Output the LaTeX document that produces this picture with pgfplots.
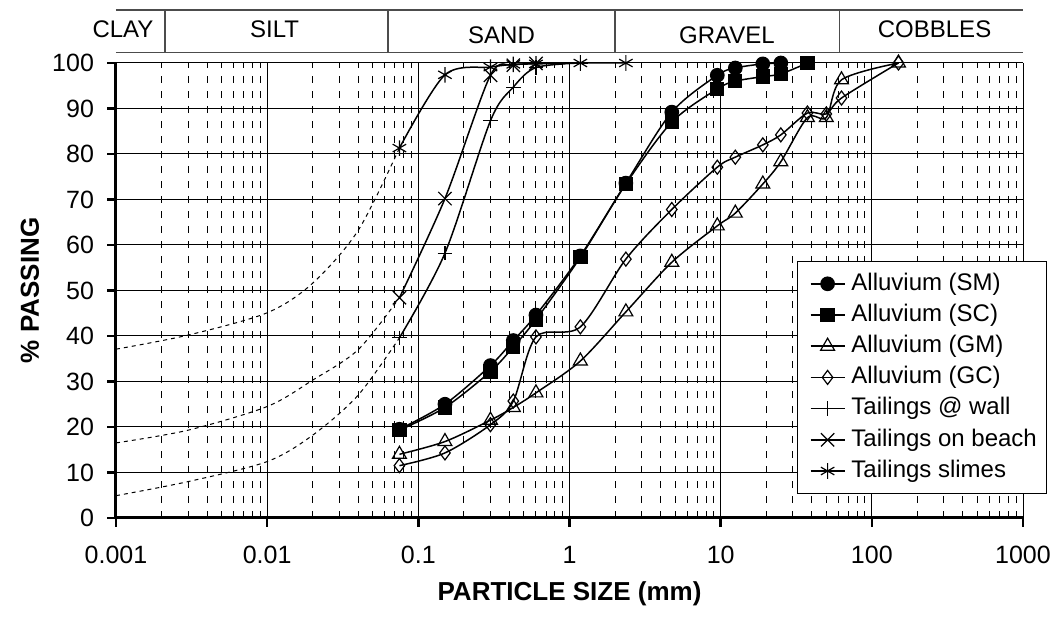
\documentclass[border=0pt]{standalone}
\usepackage{fontspec}
\setmainfont{Liberation Sans}
\usepackage{pgfplots}
\pgfplotsset{compat=1.18}

\pgfplotsset{
  gs/.style={black, line width=0.75pt, smooth, tension=0.5},
  ex/.style={black, line width=0.5pt, smooth, tension=0.5, dash pattern=on 2pt off 2pt, forget plot},
}

\begin{document}
\begin{tikzpicture}[font=\fontsize{12}{14}\selectfont]
\begin{axis}[
  name=ax,
  scale only axis, width=453.5pt, height=227.5pt,
  xmode=log, xmin=0.001, xmax=1000, ymin=0, ymax=100,
  xtick={0.001,0.01,0.1,1,10,100,1000},
  xticklabels={0.001,0.01,0.1,1,10,100,1000},
  minor xtick={0.002,0.003,0.004,0.005,0.006,0.007,0.008,0.009,
               0.02,0.03,0.04,0.05,0.06,0.07,0.08,0.09,
               0.2,0.3,0.4,0.5,0.6,0.7,0.8,0.9,
               2,3,4,5,6,7,8,9,20,30,40,50,60,70,80,90,
               200,300,400,500,600,700,800,900},
  ytick={0,10,...,100},
  axis x line*=bottom, axis y line*=left,
  axis line style={line width=1.5pt},
  tick align=outside, major tick length=4.5pt, minor tick length=0pt,
  tick style={line width=1.2pt, black},
  xmajorgrids, xminorgrids, ymajorgrids,
  major grid style={black, line width=0.5pt},
  minor grid style={black, line width=0.5pt, dash pattern=on 3.5pt off 4pt},
  /pgf/number format/assume math mode=true,
  ticklabel style={font=\fontsize{12.5}{15}\selectfont},
  xticklabel style={yshift=-6pt},
  yticklabel style={xshift=-3pt},
  xlabel={PARTICLE SIZE (mm)},
  ylabel={\% PASSING},
  xlabel style={at={(axis description cs:0.5,-0.166)}, anchor=center, font=\fontsize{13}{15}\selectfont\bfseries},
  ylabel style={at={(axis description cs:-0.0948,0.5)}, anchor=center, font=\fontsize{13}{15}\selectfont\bfseries},
  legend cell align=left,
  legend image code/.code={
    \path (-2.5pt,0pt) (0.6cm,0pt);
    \draw[mark repeat=2,mark phase=2] plot coordinates {(0cm,0cm) (0.3cm,0cm) (0.6cm,0cm)};},
  legend style={at={(1.027,0.5648)}, anchor=north east, draw=black, line width=0.6pt, fill=white,
    font=\fontsize{12}{14}\selectfont, row sep=0.4pt, column sep=1.5pt, inner sep=3.5pt,
    nodes={inner sep=1.5pt, text height=9.2pt, text depth=3pt}},
]
% extrapolated (dashed) parts of the tailings curves
\addplot[ex] coordinates {(0.001,37.1) (0.003,40.2) (0.01,45.1) (0.02,51.6) (0.04,63.2) (0.075,81.3)};
\addplot[ex] coordinates {(0.001,16.5) (0.003,19.3) (0.01,24.5) (0.02,30.3) (0.04,37.0) (0.075,48.4)};
\addplot[ex] coordinates {(0.001,4.9) (0.003,8.0) (0.01,12.4) (0.02,18.2) (0.04,27.0) (0.075,39.6)};

\addplot[gs, mark=*, mark size=3.3pt, mark options={solid}] coordinates {
  (0.075,19.5) (0.15,25.0) (0.3,33.5) (0.425,39.0) (0.6,44.6) (1.18,57.6)
  (2.36,73.6) (4.75,89.2) (9.5,97.3) (12.5,98.9) (19,99.8) (25,100)};
\addplot[gs, mark=square*, mark size=3.2pt, mark options={solid}] coordinates {
  (0.075,19.3) (0.15,24.3) (0.3,32.2) (0.425,37.6) (0.6,43.6) (1.18,57.3)
  (2.36,73.4) (4.75,87.0) (9.5,94.3) (12.5,96.0) (19,97.0) (25,97.6) (37.5,100)};
\addplot[gs, mark=triangle, mark size=4pt, mark options={solid, fill=white, line width=0.6pt}] coordinates {
  (0.075,14.0) (0.15,16.8) (0.3,21.5) (0.425,24.3) (0.6,27.5) (1.18,34.5)
  (2.36,45.3) (4.75,56.2) (9.5,64.2) (12.5,67.0) (19,73.4) (25,78.3)
  (37.5,88.0) (50,88.0) (63,96.3) (150,100)};
\addplot[gs, mark=diamond, mark size=3.5pt, mark options={solid, fill=white, line width=0.6pt}] coordinates {
  (0.075,11.5) (0.15,14.3) (0.3,20.5) (0.425,25.7) (0.6,39.8) (1.18,42.0)
  (2.36,56.9) (4.75,67.8) (9.5,77.1) (12.5,79.3) (19,82.0) (25,84.2)
  (37.5,89.0) (50,88.8) (63,92.3) (150,100)};
\addplot[gs, mark=+, mark size=3.6pt, mark options={solid, line width=0.6pt}] coordinates {
  (0.075,39.6) (0.15,58.2) (0.3,87.3) (0.425,94.7) (0.6,99.0) (1.18,100)};
\addplot[gs, mark=x, mark size=4.7pt, mark options={solid, line width=0.6pt}] coordinates {
  (0.075,48.4) (0.15,70.2) (0.3,97.3) (0.425,99.5) (0.6,99.9)};
\addplot[gs, mark=asterisk, mark size=3.9pt, mark options={solid, line width=0.6pt}] coordinates {
  (0.075,81.3) (0.15,97.4) (0.3,99.1) (0.425,99.7) (0.6,99.8) (1.18,100) (2.36,100)};
\legend{Alluvium (SM),Alluvium (SC),Alluvium (GM),Alluvium (GC),Tailings @ wall,Tailings on beach,Tailings slimes}
\end{axis}

% soil classification band above the plot
\begin{axis}[
  at={(ax.north west)}, anchor=south west, yshift=5.15pt,
  scale only axis, width=453.5pt, height=21.35pt,
  xmode=log, xmin=0.001, xmax=1000, ymin=0, ymax=1,
  hide axis, clip=false,
]
\draw[black!70, line width=0.8pt] (axis cs:0.001,0) -- (axis cs:1000,0);
\draw[black!70, line width=0.8pt] (axis cs:0.001,1) -- (axis cs:1000,1);
\draw[black!70, line width=0.8pt] (axis cs:0.0021,0) -- (axis cs:0.0021,1);
\draw[black!70, line width=0.8pt] (axis cs:0.063,0) -- (axis cs:0.063,1);
\draw[black!70, line width=0.8pt] (axis cs:2,0) -- (axis cs:2,1);
\draw[black!70, line width=0.8pt] (axis cs:61,0) -- (axis cs:61,1);
\node[anchor=east] at (axis cs:0.00197,0.54) {CLAY};
\node at (axis cs:0.0112,0.54) {SILT};
\node at (axis cs:0.355,0.40) {SAND};
\node at (axis cs:11,0.40) {GRAVEL};
\node at (axis cs:260,0.54) {COBBLES};
\end{axis}

\path ([shift={(-58pt,-50.5pt)}]ax.south west) rectangle ([shift={(18pt,31.5pt)}]ax.north east);
\end{tikzpicture}
\end{document}
